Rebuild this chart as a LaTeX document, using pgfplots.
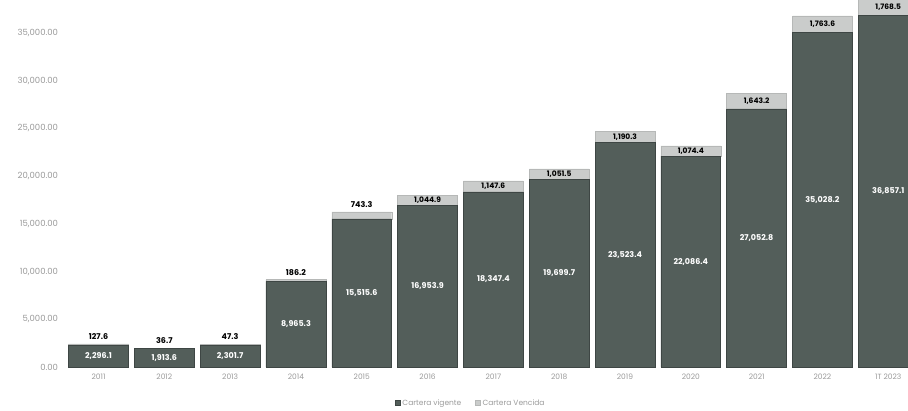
\documentclass[border=0pt]{standalone}
\usepackage{pgfplots}
\usepackage{pgfplotstable}
\pgfplotsset{compat=1.18}
\usepackage{fontspec}
\setmainfont{Poppins}
\definecolor{vig}{HTML}{535E5A}
\definecolor{ven}{HTML}{CACCCB}
\definecolor{tickc}{HTML}{9A9A9A}

\pgfplotstableread{
x vig ven
0 2296.1 127.6
1 1913.6 36.7
2 2301.7 47.3
3 8965.3 186.2
4 15515.6 743.3
5 16953.9 1044.9
6 18347.4 1147.6
7 19699.7 1051.5
8 23523.4 1190.3
9 22086.4 1074.4
10 27052.8 1643.2
11 35028.2 1763.6
12 36857.1 1768.5
}\data

\pgfplotsset{base/.style={scale only axis, width=842.4pt, height=367pt,
  xmin=-0.5, xmax=12.3, ymin=0, ymax=38458},
  lbl/.style={nodes near coords={\pgfmathprintnumber[fixed, fixed zerofill, precision=1, 1000 sep={,}, assume math mode=true]{\pgfplotspointmeta}}}}

\begin{document}
\begin{tikzpicture}
\begin{axis}[base,
  ybar stacked, bar width=0.91,
  axis line style={draw=none}, tick style={draw=none},
  axis x line*=bottom, axis y line*=left,
  scaled y ticks=false,
  xtick={0,...,12},
  xticklabels={2011,2012,2013,2014,2015,2016,2017,2018,2019,2020,2021,2022,1T 2023},
  ytick={0,5000,10000,15000,20000,25000,30000,35000},
  yticklabel={\pgfmathprintnumber[fixed, fixed zerofill, precision=2, 1000 sep={,}, assume math mode=true]{\tick}},
  yticklabel style={font=\fontsize{8.5}{10}\selectfont, text=tickc, xshift=-4pt},
  xticklabel style={font=\fontsize{7.5}{9}\selectfont, text=tickc, yshift=-3pt},
  legend style={at={(0.481,-0.098)}, anchor=center, draw=none, fill=none,
    legend columns=2, font=\fontsize{7.5}{9}\selectfont, text=tickc,
    /tikz/every even column/.append style={column sep=12pt}},
  legend image code/.code={\fill[#1] (0pt,-2.4pt) rectangle (4.8pt,2.4pt);},
]
\addplot[fill=vig, draw=vig!75!black, line width=0.6pt] table[x=x, y=vig] {\data};
\addlegendentry{Cartera vigente}
\addplot[fill=ven, draw=ven!90!black, line width=0.4pt] table[x=x, y=ven] {\data};
\addlegendentry{Cartera Vencida}
\end{axis}
\begin{axis}[base, hide axis]
\addplot[draw=none, point meta={\thisrow{vig}}, lbl,
  every node near coord/.append style={anchor=center, font=\bfseries\fontsize{8}{9}\selectfont, text=white}]
  table[x=x, y expr={\thisrow{vig}/2}] {\data};
\addplot[draw=none, point meta={\thisrow{ven}}, lbl,
  skip coords between index={5}{13},
  every node near coord/.append style={anchor=south, yshift=1pt, font=\bfseries\fontsize{8}{9}\selectfont, text=black}]
  table[x=x, y expr={\thisrow{vig}+\thisrow{ven}}] {\data};
\addplot[draw=none, point meta={\thisrow{ven}}, lbl,
  skip coords between index={0}{5},
  every node near coord/.append style={anchor=center, font=\bfseries\fontsize{7.5}{9}\selectfont, text=black}]
  table[x=x, y expr={\thisrow{vig}+\thisrow{ven}/2}] {\data};
\end{axis}
\pgfresetboundingbox
\useasboundingbox (-65.6pt,-43pt) rectangle (842.4pt,367pt);
\end{tikzpicture}
\end{document}
